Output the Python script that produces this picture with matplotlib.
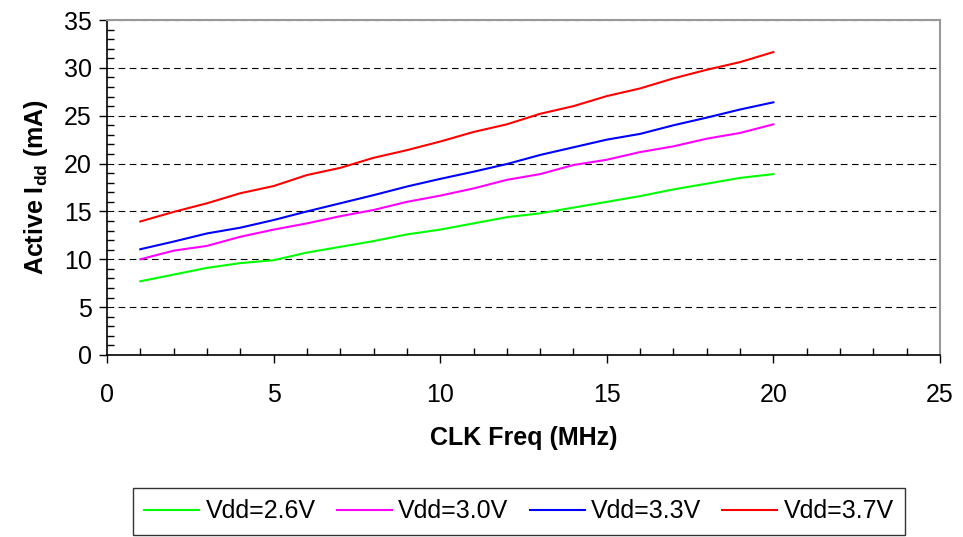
import matplotlib
matplotlib.use('Agg')
import matplotlib.pyplot as plt
from matplotlib.ticker import MultipleLocator

plt.rcParams['font.family'] = ['Liberation Sans', 'DejaVu Sans']
plt.rcParams['mathtext.fontset'] = 'custom'
plt.rcParams['mathtext.rm'] = 'Liberation Sans'
plt.rcParams['mathtext.bf'] = 'Liberation Sans:bold'

# clock frequency (MHz)
freq = list(range(1, 21))
# active current (mA) per supply voltage
idd_26 = [7.7, 8.4, 9.1, 9.6, 9.9, 10.7, 11.3, 11.9, 12.6, 13.1,
          13.75, 14.4, 14.8, 15.4, 16.0, 16.6, 17.3, 17.9, 18.5, 18.9]
idd_30 = [10.0, 10.9, 11.4, 12.35, 13.1, 13.75, 14.5, 15.15, 16.0, 16.65,
          17.4, 18.3, 18.9, 19.85, 20.4, 21.2, 21.8, 22.6, 23.2, 24.1]
idd_33 = [11.05, 11.85, 12.7, 13.3, 14.1, 15.0, 15.85, 16.7, 17.6, 18.4,
          19.15, 19.95, 20.9, 21.7, 22.5, 23.1, 24.0, 24.8, 25.65, 26.4]
idd_37 = [13.95, 14.95, 15.85, 16.9, 17.65, 18.8, 19.55, 20.6, 21.4, 22.3,
          23.3, 24.1, 25.2, 26.0, 27.05, 27.85, 28.9, 29.8, 30.6, 31.65]
labels = ['Vdd=2.6V', 'Vdd=3.0V', 'Vdd=3.3V', 'Vdd=3.7V']
colors = ['#00FF00', '#FF00FF', '#0000FF', '#FF0000']

fig = plt.figure(figsize=(9.63, 5.37), dpi=100)
ax = fig.add_axes([107/963, 1-355/537, (940-107)/963, (355-20)/537])

for ys, lab, c in zip([idd_26, idd_30, idd_33, idd_37], labels, colors):
    ax.plot(freq, ys, color=c, lw=1.5, label=lab)

ax.set_xlim(0, 25)
ax.set_ylim(0, 35)
ax.xaxis.set_major_locator(MultipleLocator(5))
ax.xaxis.set_minor_locator(MultipleLocator(1))
ax.yaxis.set_major_locator(MultipleLocator(5))
ax.yaxis.set_minor_locator(MultipleLocator(1))
ax.tick_params(which='major', direction='out', length=6, width=1, labelsize=18, color='black')
ax.tick_params(which='minor', direction='in', length=5, width=1, color='black')
ax.tick_params(axis='x', which='major', pad=14)
ax.tick_params(axis='y', which='major', pad=5)

ax.yaxis.grid(True, which='major', color='black', linestyle=(0, (6, 4)), lw=0.8)
ax.set_axisbelow(True)

for s in ['left', 'bottom']:
    ax.spines[s].set_color('black')
    ax.spines[s].set_linewidth(1.2)
for s in ['top', 'right']:
    ax.spines[s].set_color('#999999')
    ax.spines[s].set_linewidth(1.5)

ax.set_xlabel('CLK Freq (MHz)', fontsize=18, fontweight='bold', labelpad=14)
ax.set_ylabel(r'Active I$_{\mathbf{dd}}$ (mA)', fontsize=18, fontweight='bold', labelpad=10)

leg = fig.legend(loc='upper left', bbox_to_anchor=(133/963, 1-488/537), ncol=4,
                 fontsize=18, frameon=True, fancybox=False, handlelength=2.2,
                 columnspacing=0.85, handletextpad=0.25, borderpad=0.45,
                 borderaxespad=0)
leg.get_frame().set_edgecolor('black')
leg.get_frame().set_linewidth(1.0)

fig.savefig('out.png', dpi=100)
